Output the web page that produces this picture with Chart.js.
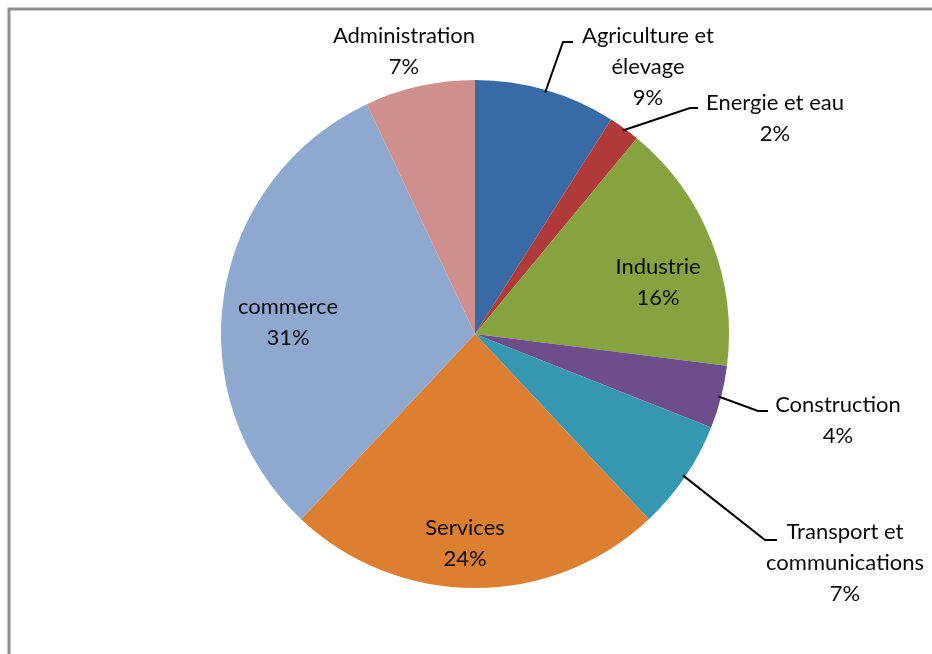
<!DOCTYPE html>
<html>
<head>
<meta charset="utf-8">
<script src="https://cdn.jsdelivr.net/npm/chart.js@4"></script>
<style>
  html, body { margin: 0; padding: 0; background: #fff; }
  #wrap { width: 932px; height: 654px; position: relative; }
</style>
</head>
<body>
<div id="wrap"><canvas id="pie"></canvas></div>
<script>
// secteurs d'activité, dans l'ordre des aiguilles d'une montre depuis midi
const categories = [
    "Agriculture et élevage", "Energie et eau", "Industrie", "Construction",
    "Transport et communications", "Services", "commerce", "Administration"
];
const shares = [9, 2, 16, 4, 7, 24, 31, 7];

// how each category name is split over lines in its label
const nameLines = [
    ["Agriculture et", "élevage"], ["Energie et eau"], ["Industrie"], ["Construction"],
    ["Transport et", "communications"], ["Services"], ["commerce"], ["Administration"]
];

const colors = ["#386ba6", "#b0393a", "#86a340", "#6d4d8b", "#3697b0", "#dc7f31", "#8fa8cf", "#cf8f8e"];

// label placement, in px relative to the pie centre for a 254px radius
// text: centre of the text block; leader: elbow + end of the callout line
const labelLayout = [
    { text: [173, -267], leader: [[88, -292], [98, -292]] },
    { text: [300, -216], leader: [[215, -226], [223, -226]] },
    { text: [183, -52] },
    { text: [363, 86], leader: [[283, 77], [293, 77]] },
    { text: [370, 229], leader: [[290, 206], [302, 206]] },
    { text: [-10, 209] },
    { text: [-187, -12] },
    { text: [-71, -283] }
];

const FONT = '22px Lato, "Open Sans", sans-serif';
const LINE_H = 31;

const framePlugin = {
    id: "frame",
    beforeDraw(chart) {
        const ctx = chart.ctx;
        ctx.save();
        ctx.strokeStyle = "#8e8e8e";
        ctx.lineWidth = 3;
        ctx.beginPath();
        ctx.moveTo(9, chart.height);
        ctx.lineTo(9, 9);
        ctx.lineTo(chart.width, 9);
        ctx.stroke();
        ctx.restore();
    }
};

const sliceLabels = {
    id: "sliceLabels",
    afterDatasetsDraw(chart) {
        const ctx = chart.ctx;
        const arcs = chart.getDatasetMeta(0).data;
        ctx.save();
        ctx.font = FONT;
        ctx.fillStyle = "#0a0a0a";
        ctx.textAlign = "center";
        ctx.textBaseline = "middle";
        arcs.forEach((arc, i) => {
            const { x, y, startAngle, endAngle, outerRadius } = arc.getProps(["x", "y", "startAngle", "endAngle", "outerRadius"], true);
            const k = outerRadius / 254;
            const lay = labelLayout[i];

            if (lay.leader) {
                const mid = (startAngle + endAngle) / 2;
                ctx.strokeStyle = "#000";
                ctx.lineWidth = 2;
                ctx.beginPath();
                ctx.moveTo(x + Math.cos(mid) * outerRadius * 0.99, y + Math.sin(mid) * outerRadius * 0.99);
                lay.leader.forEach(p => ctx.lineTo(x + p[0] * k, y + p[1] * k));
                ctx.stroke();
            }

            const lines = nameLines[i].concat([shares[i] + "%"]);
            const cx = x + lay.text[0] * k;
            const top = y + lay.text[1] * k - (lines.length - 1) * LINE_H / 2;
            lines.forEach((t, j) => ctx.fillText(t, cx, top + j * LINE_H));
        });
        ctx.restore();
    }
};

new Chart(document.getElementById("pie"), {
    type: "pie",
    data: {
        labels: categories,
        datasets: [{
            data: shares,
            backgroundColor: colors,
            borderWidth: 0
        }]
    },
    options: {
        responsive: true,
        maintainAspectRatio: false,
        animation: false,
        layout: { padding: { top: 80, bottom: 66, left: 18, right: 0 } },
        plugins: {
            legend: { display: false },
            tooltip: { enabled: false }
        }
    },
    plugins: [framePlugin, sliceLabels]
});
</script>
</body>
</html>
